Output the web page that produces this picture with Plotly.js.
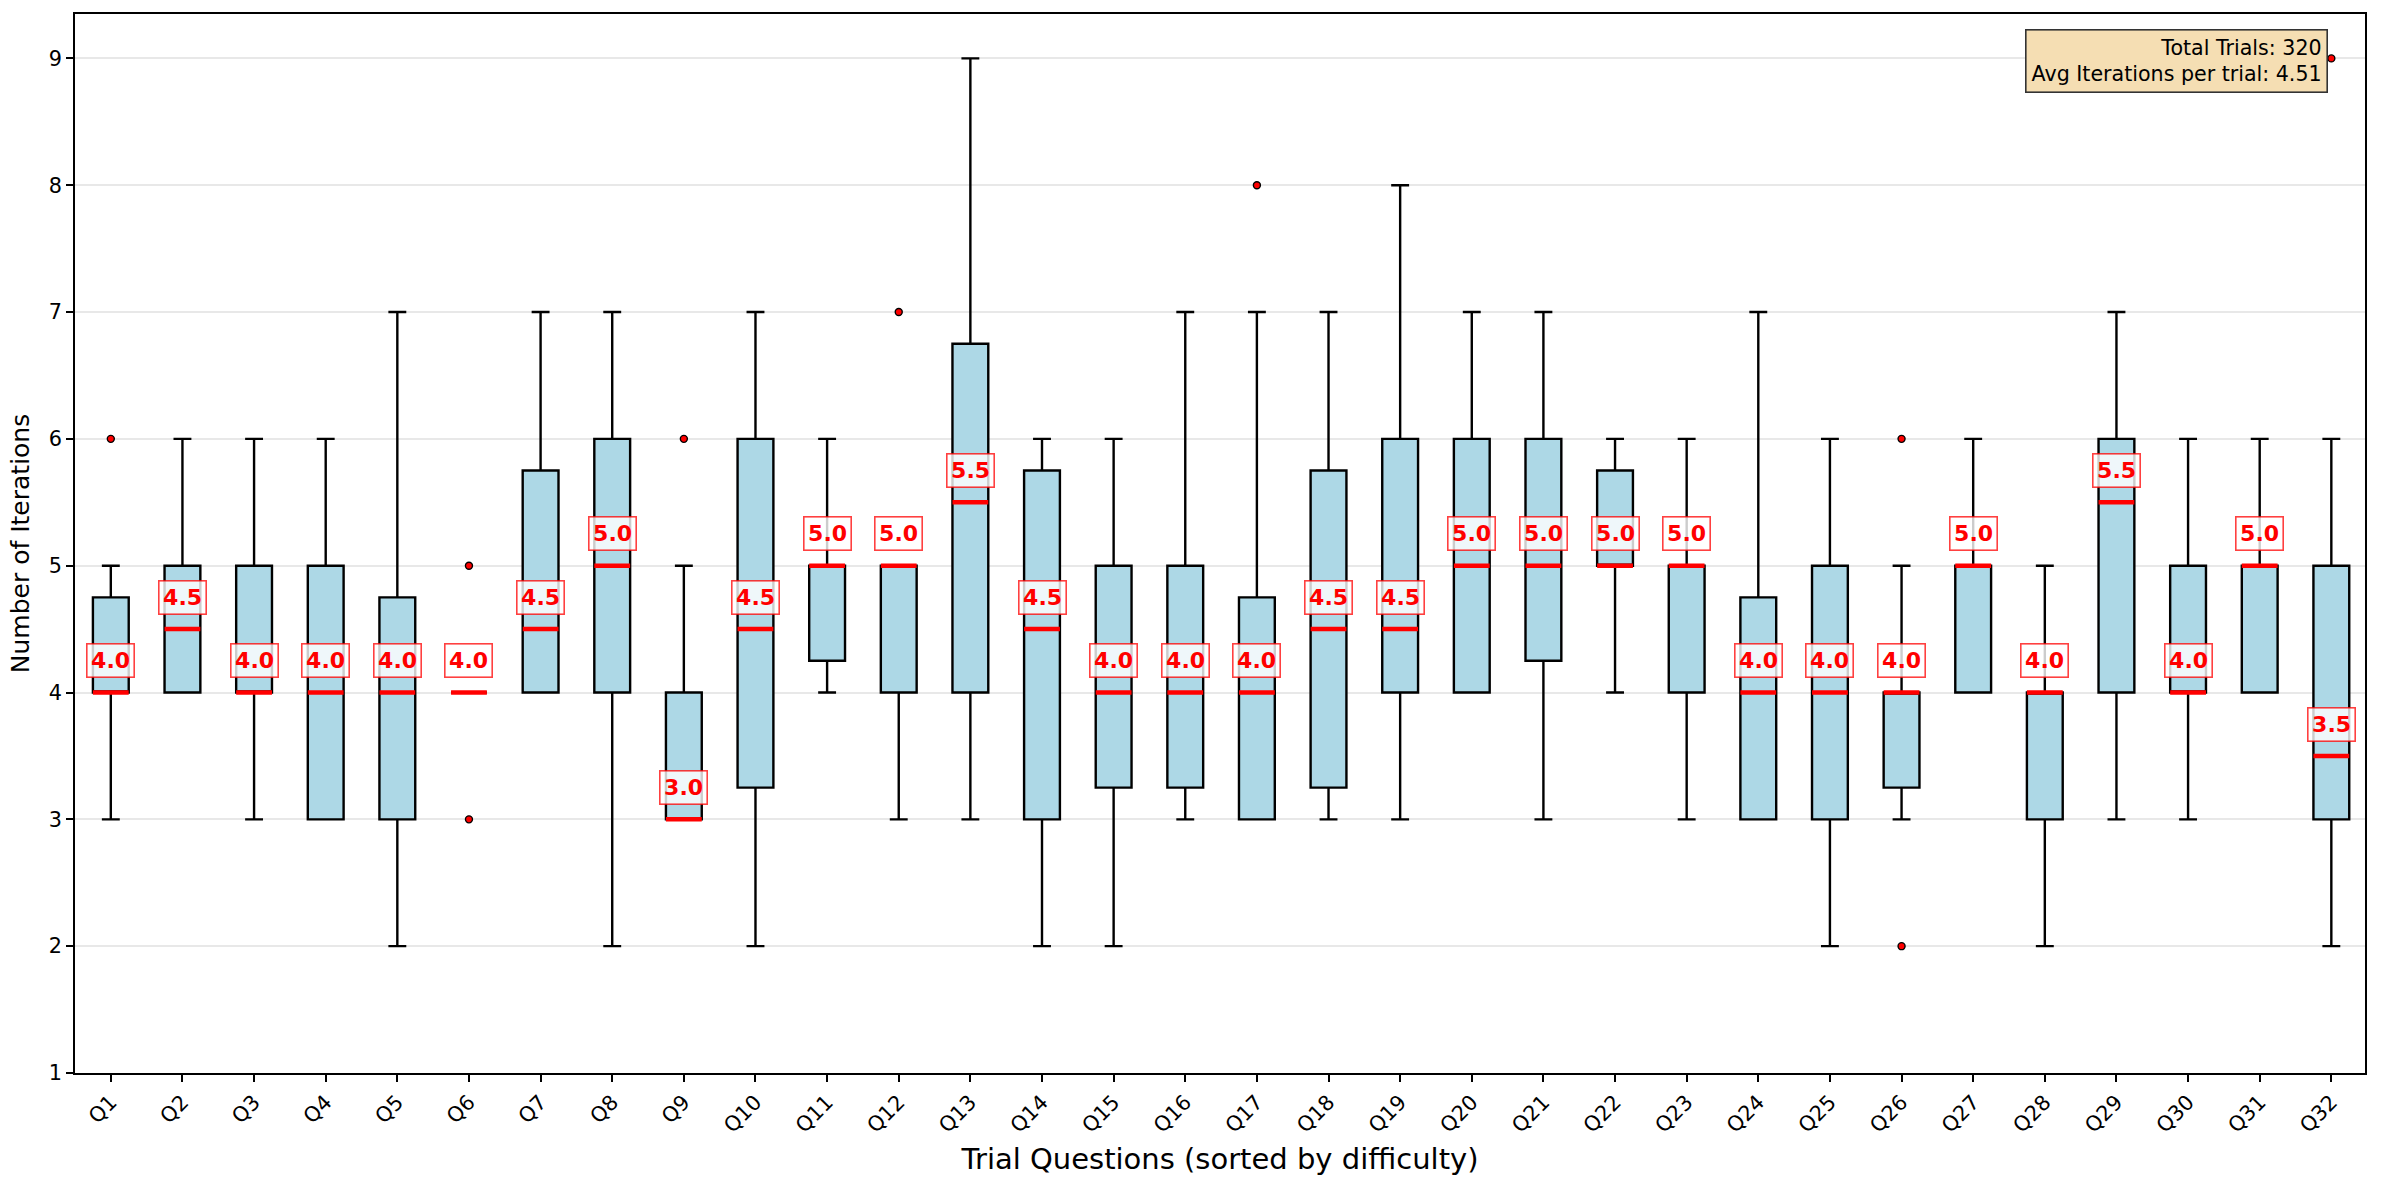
<!DOCTYPE html>
<html>
<head>
<meta charset="utf-8">
<script src="https://cdn.plot.ly/plotly-3.0.1.min.js"></script>
<style>
  html, body { margin: 0; padding: 0; background: #ffffff; }
  #chart { width: 2382px; height: 1183px; }
</style>
</head>
<body>
<div id="chart"></div>
<script>
// Iterations per trial question, summarised as box statistics
const questions = ["Q1","Q2","Q3","Q4","Q5","Q6","Q7","Q8","Q9","Q10","Q11","Q12","Q13","Q14","Q15","Q16",
                   "Q17","Q18","Q19","Q20","Q21","Q22","Q23","Q24","Q25","Q26","Q27","Q28","Q29","Q30","Q31","Q32"];
const q1s     = [4, 4, 4, 3, 3, 4, 4, 4, 3, 3.25, 4.25, 4, 4, 3, 3.25, 3.25,
                 3, 3.25, 4, 4, 4.25, 5, 4, 3, 3, 3.25, 4, 3, 4, 4, 4, 3];
const medians = [4, 4.5, 4, 4, 4, 4, 4.5, 5, 3, 4.5, 5, 5, 5.5, 4.5, 4, 4,
                 4, 4.5, 4.5, 5, 5, 5, 5, 4, 4, 4, 5, 4, 5.5, 4, 5, 3.5];
const q3s     = [4.75, 5, 5, 5, 4.75, 4, 5.75, 6, 4, 6, 5, 5, 6.75, 5.75, 5, 5,
                 4.75, 5.75, 6, 6, 6, 5.75, 5, 4.75, 5, 4, 5, 4, 6, 5, 5, 5];
const lowerWhiskers = [3, 4, 3, 3, 2, 4, 4, 2, 3, 2, 4, 3, 3, 2, 2, 3,
                       3, 3, 3, 4, 3, 4, 3, 3, 2, 3, 4, 2, 3, 3, 4, 2];
const upperWhiskers = [5, 6, 6, 6, 7, 4, 7, 7, 5, 7, 6, 5, 9, 6, 6, 7,
                       7, 7, 8, 7, 7, 6, 6, 7, 6, 5, 6, 5, 7, 6, 6, 6];
const outlierQuestions = ["Q1", "Q6", "Q6", "Q9", "Q12", "Q17", "Q26", "Q26", "Q32"];
const outlierValues    = [6, 3, 5, 6, 7, 8, 2, 6, 9];

const totalTrials = 320;
const avgIterations = 4.51;

// Numeric positions 1..N so the median segments can span the box width
const positions = questions.map((_, i) => i + 1);
const boxWidth = 0.5;
const FONT = "DejaVu Sans";

const boxTrace = {
  type: "box",
  x: positions,
  q1: q1s,
  median: medians,
  q3: q3s,
  lowerfence: lowerWhiskers,
  upperfence: upperWhiskers,
  width: boxWidth,
  whiskerwidth: 0.5,
  fillcolor: "#add8e6",
  line: { color: "#000000", width: 2.4 },
  showlegend: false,
  hoverinfo: "skip"
};

// Red median bars drawn over each box
const medX = [], medY = [];
positions.forEach((p, i) => {
  medX.push(p - boxWidth / 2, p + boxWidth / 2, null);
  medY.push(medians[i], medians[i], null);
});
const medianTrace = {
  type: "scatter",
  mode: "lines",
  x: medX,
  y: medY,
  line: { color: "#ff0000", width: 4.5 },
  showlegend: false,
  hoverinfo: "skip"
};

const outlierTrace = {
  type: "scatter",
  mode: "markers",
  x: outlierQuestions.map(q => positions[questions.indexOf(q)]),
  y: outlierValues,
  marker: { color: "#ff0000", size: 7, line: { color: "#000000", width: 1.4 } },
  showlegend: false,
  hoverinfo: "skip"
};

// Median value labels just above each median bar
const medianLabels = positions.map((p, i) => ({
  x: p,
  y: medians[i] + 0.25,
  xref: "x",
  yref: "y",
  text: "<b>" + medians[i].toFixed(1) + "</b>",
  showarrow: false,
  font: { family: FONT, size: 22, color: "#ff0000" },
  bgcolor: "rgba(255,255,255,0.8)",
  bordercolor: "rgba(255,0,0,0.75)",
  borderwidth: 1.6,
  borderpad: 3.5,
  xanchor: "center",
  yanchor: "middle"
}));

const statsBox = {
  xref: "paper",
  yref: "paper",
  x: 0.9838,
  y: 0.9856,
  xanchor: "right",
  yanchor: "top",
  align: "right",
  showarrow: false,
  text: "Total Trials: " + totalTrials + "<br>Avg Iterations per trial: " + avgIterations.toFixed(2),
  font: { family: FONT, size: 20.6, color: "#000000" },
  bgcolor: "#f5deb3",
  bordercolor: "#333333",
  borderwidth: 1.6,
  borderpad: 5
};

const layout = {
  width: 2382,
  height: 1183,
  margin: { l: 75, r: 17, t: 14, b: 110 },
  paper_bgcolor: "#ffffff",
  plot_bgcolor: "#ffffff",
  font: { family: FONT, color: "#000000" },
  showlegend: false,
  xaxis: {
    range: [0.5, 32.47],
    tickmode: "array",
    tickvals: positions,
    ticktext: questions,
    tickangle: -45,
    tickfont: { family: FONT, size: 20.8, color: "#000000" },
    ticks: "outside",
    ticklen: 7,
    tickwidth: 1.7,
    tickcolor: "#000000",
    showgrid: false,
    zeroline: false,
    showline: true,
    linecolor: "#000000",
    linewidth: 1.7,
    mirror: true,
    title: {
      text: "Trial Questions (sorted by difficulty)",
      font: { family: FONT, size: 29, color: "#000000" },
      standoff: 12
    }
  },
  yaxis: {
    range: [1, 9.35],
    tickmode: "linear",
    tick0: 1,
    dtick: 1,
    tickfont: { family: FONT, size: 20.8, color: "#000000" },
    ticks: "outside",
    ticklen: 7,
    tickwidth: 1.7,
    tickcolor: "#000000",
    showgrid: true,
    gridcolor: "#e8e8e8",
    gridwidth: 1.5,
    zeroline: false,
    showline: true,
    linecolor: "#000000",
    linewidth: 1.7,
    mirror: true,
    title: {
      text: "Number of Iterations",
      font: { family: FONT, size: 25, color: "#000000" },
      standoff: 12
    }
  },
  annotations: medianLabels.concat([statsBox])
};

Plotly.newPlot("chart", [boxTrace, medianTrace, outlierTrace], layout, { displayModeBar: false, responsive: false });
</script>
</body>
</html>
